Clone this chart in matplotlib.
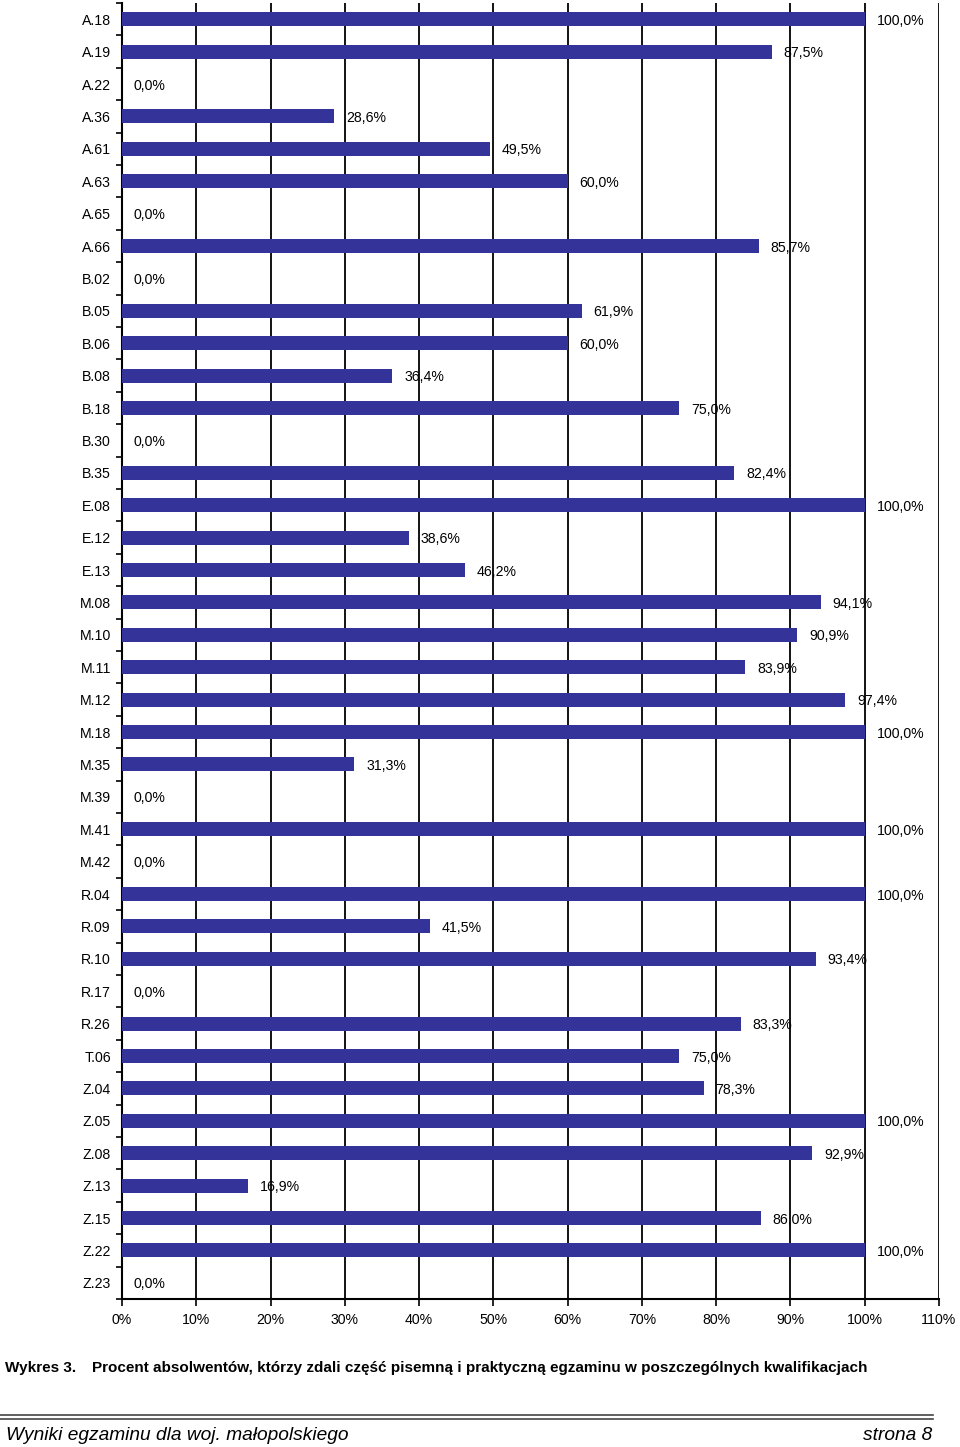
import numpy as np
import matplotlib.pyplot as plt
from matplotlib.lines import Line2D

plt.rcParams['font.family'] = ['Liberation Sans', 'DejaVu Sans']

kwalifikacje = ["A.18", "A.19", "A.22", "A.36", "A.61", "A.63", "A.65", "A.66",
                "B.02", "B.05", "B.06", "B.08", "B.18", "B.30", "B.35",
                "E.08", "E.12", "E.13",
                "M.08", "M.10", "M.11", "M.12", "M.18", "M.35", "M.39", "M.41", "M.42",
                "R.04", "R.09", "R.10", "R.17", "R.26",
                "T.06",
                "Z.04", "Z.05", "Z.08", "Z.13", "Z.15", "Z.22", "Z.23"]

procent = [100.0, 87.5, 0.0, 28.6, 49.5, 60.0, 0.0, 85.7,
           0.0, 61.9, 60.0, 36.4, 75.0, 0.0, 82.4,
           100.0, 38.6, 46.2,
           94.1, 90.9, 83.9, 97.4, 100.0, 31.3, 0.0, 100.0, 0.0,
           100.0, 41.5, 93.4, 0.0, 83.3,
           75.0,
           78.3, 100.0, 92.9, 16.9, 86.0, 100.0, 0.0]

fig = plt.figure(figsize=(9.6, 14.47), dpi=100)
ax = fig.add_axes([122/960, 1 - 1299/1447, (939-122)/960, (1299-3)/1447])

y = np.arange(len(kwalifikacje))
ax.barh(y, procent, height=0.43, color='#333399', zorder=3)

# etykiety wartości przy końcach słupków
for yi, v in zip(y, procent):
    ax.text(v + 1.6, yi + 0.05, f"{v:.1f}%".replace('.', ','), va='center', ha='left',
            fontsize=10.2, zorder=4)

ax.set_xlim(0, 110)
ax.set_ylim(len(kwalifikacje) - 0.5, -0.5)
ax.set_xticks(np.arange(0, 111, 10))
ax.set_xticklabels([f"{t}%" for t in range(0, 111, 10)], fontsize=10.2)
ax.set_yticks(y)
ax.set_yticklabels(kwalifikacje, fontsize=10.2)
ax.set_yticks(np.arange(len(kwalifikacje) + 1) - 0.5, minor=True)
ax.tick_params(axis='y', which='major', length=0, pad=8)
ax.tick_params(axis='y', which='minor', length=4, width=1.2, direction='out')
ax.tick_params(axis='x', which='major', length=5, width=1.2, direction='out', pad=5)
ax.grid(axis='x', color='black', linewidth=1.3, zorder=1)
ax.spines['top'].set_visible(False)
ax.spines['right'].set_visible(False)
ax.spines['left'].set_linewidth(1.5)
ax.spines['bottom'].set_linewidth(1.5)

fig.text(5/960, 1 - 1368/1447, "Wykres 3.", fontsize=11, fontweight='bold', va='center')
fig.text(92/960, 1 - 1368/1447,
         "Procent absolwentów, którzy zdali część pisemną i praktyczną egzaminu w poszczególnych kwalifikacjach",
         fontsize=11, fontweight='bold', va='center')

fig.add_artist(Line2D([0, 933/960], [1 - 1415/1447] * 2, color='#444444', linewidth=1.2))
fig.add_artist(Line2D([0, 933/960], [1 - 1419/1447] * 2, color='#444444', linewidth=1.2))
fig.text(6/960, 1 - 1435/1447, "Wyniki egzaminu dla woj. małopolskiego", fontsize=13.8,
         style='italic', va='center')
fig.text(932/960, 1 - 1435/1447, "strona 8", fontsize=13.8, style='italic', va='center', ha='right')

fig.savefig('out.png', dpi=100)
